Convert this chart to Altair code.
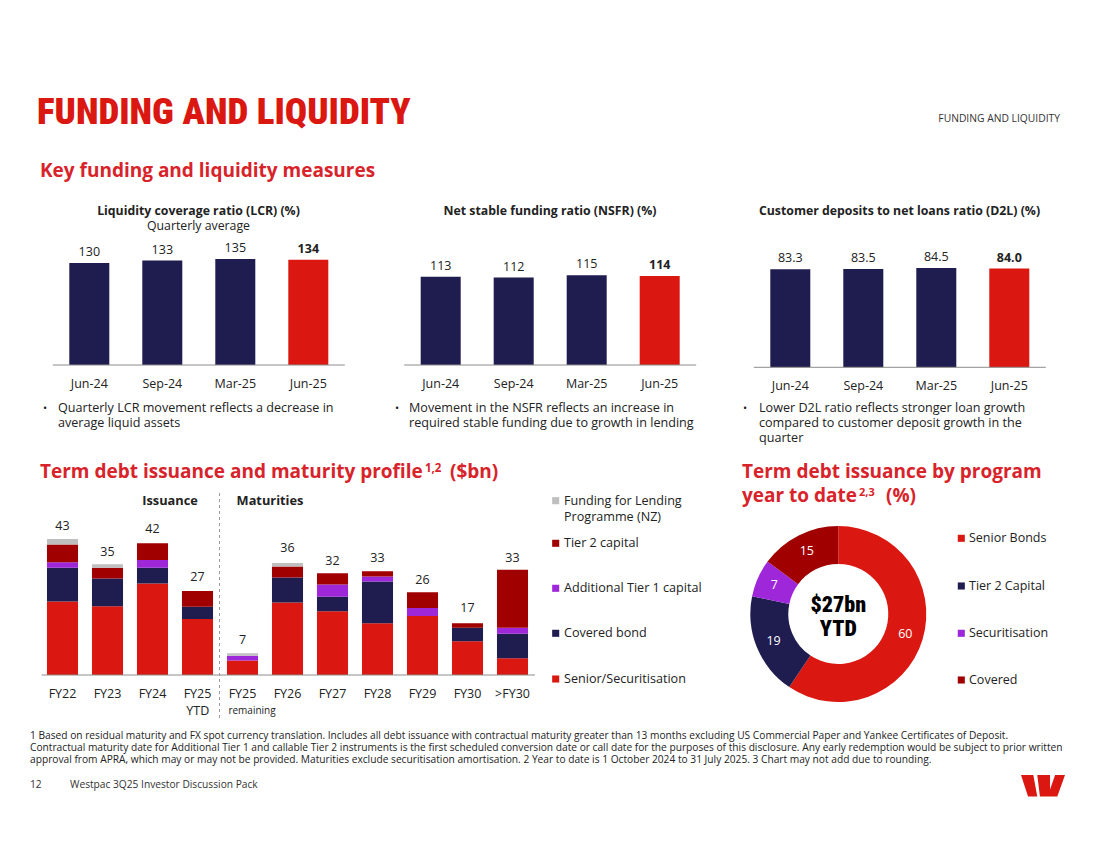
import altair as alt
import pandas as pd

# ---------------- data ----------------
quarters = ["Jun-24", "Sep-24", "Mar-25", "Jun-25"]
lcr = [130, 133, 135, 134]
nsfr = [113, 112, 115, 114]
d2l = [83.3, 83.5, 84.5, 84.0]

periods = ["FY22", "FY23", "FY24", "FY25 YTD", "FY25 remaining", "FY26",
           "FY27", "FY28", "FY29", "FY30", ">FY30"]
period_line1 = ["FY22", "FY23", "FY24", "FY25", "FY25", "FY26",
                "FY27", "FY28", "FY29", "FY30", ">FY30"]
totals = [43, 35, 42, 27, 7, 36, 32, 33, 26, 17, 33]

components = ["Senior/Securitisation", "Covered bond", "Additional Tier 1 capital",
              "Tier 2 capital", "Funding for Lending Programme (NZ)"]
senior_sec = [23.3, 21.8, 29.0, 17.7, 4.6, 23.0, 20.2, 16.4, 18.7, 10.7, 5.3]
covered_bond = [10.7, 8.8, 5.0, 3.9, 0.0, 7.9, 4.6, 13.2, 0.0, 4.3, 7.8]
add_tier1 = [1.7, 0.0, 2.4, 0.0, 1.5, 0.0, 3.9, 1.6, 2.5, 0.0, 1.9]
tier2 = [5.6, 3.4, 5.3, 5.0, 0.0, 3.5, 3.5, 1.7, 5.0, 1.4, 18.3]
flp_nz = [1.8, 1.1, 0.0, 0.0, 0.8, 1.1, 0.0, 0.0, 0.0, 0.0, 0.0]

programs = ["Senior Bonds", "Tier 2 Capital", "Securitisation", "Covered"]
program_pct = [60, 19, 7, 15]

# ---------------- style ----------------
RED = "#DA1710"
HEAD = "#D8232A"
NAVY = "#1F1C4F"
PURPLE = "#9D27D9"
DARKRED = "#A00000"
GREY = "#BFBFBF"
TXT = "#222222"
BODY = "Open Sans"
NUM = "Open Sans"
TITLE = "Roboto Condensed, Open Sans Condensed"


def P(v):
    return v - 8


def dummy():
    return pd.DataFrame({"a": [0]})


def txt(s, x, y, size=12, weight="normal", color=TXT, font=BODY, align="left",
        baseline="alphabetic"):
    return alt.Chart(pd.DataFrame({"t": [s]})).mark_text(
        align=align, baseline=baseline, fontSize=size, fontWeight=weight,
        color=color, font=font
    ).encode(x=alt.value(P(x)), y=alt.value(P(y)), text="t:N")


def hline(x1, x2, y, color="#8C8C8C", width=1):
    return alt.Chart(dummy()).mark_rule(color=color, strokeWidth=width).encode(
        x=alt.value(P(x1)), x2=alt.value(P(x2)), y=alt.value(P(y)))


def square(x, y, color, size=50):
    return alt.Chart(dummy()).mark_square(color=color, size=size, opacity=1).encode(
        x=alt.value(P(x)), y=alt.value(P(y)))


layers = []

# ---------------- headings ----------------
layers.append(txt("FUNDING AND LIQUIDITY", 37, 124, size=37, weight=900, color=RED, font=TITLE))
layers.append(txt("FUNDING AND LIQUIDITY", 1060, 122, size=10.3, color="#333333", align="right"))
layers.append(txt("Key funding and liquidity measures", 40, 177, size=19, weight="bold", color=HEAD))


# ---------------- small bar charts ----------------
def small_chart(vals, fmt, x0, x1, base, ppu, dmax, title_cx, titles, bullet_x, text_x,
                bullets, xlab_y):
    df = pd.DataFrame({"q": quarters, "v": vals})
    xs = alt.X("q:N", scale=alt.Scale(domain=quarters, range=[P(x0), P(x1)],
                                      paddingInner=0.452, paddingOuter=0.226), axis=None)
    ys = alt.Y("v:Q", scale=alt.Scale(domain=[0, dmax], range=[P(base), P(base - dmax * ppu)],
                                      nice=False, zero=True), axis=None)
    out = []
    out.append(alt.Chart(df).mark_bar().encode(
        x=xs, y=ys,
        color=alt.Color("q:N", scale=alt.Scale(domain=quarters, range=[NAVY, NAVY, NAVY, RED]),
                        legend=None)))
    out.append(alt.Chart(df).transform_filter(alt.datum.q != quarters[-1]).mark_text(
        baseline="alphabetic", dy=-7, fontSize=12.5, font=NUM, color=TXT).encode(
        x=xs, y=ys, text=alt.Text("v:Q", format=fmt)))
    out.append(alt.Chart(df).transform_filter(alt.datum.q == quarters[-1]).mark_text(
        baseline="alphabetic", dy=-7, fontSize=12.5, font=NUM, fontWeight="bold", color=TXT).encode(
        x=xs, y=ys, text=alt.Text("v:Q", format=fmt)))
    out.append(alt.Chart(df).mark_text(baseline="alphabetic", fontSize=12.5, font=NUM, color=TXT).encode(
        x=xs, y=alt.value(P(xlab_y)), text="q:N"))
    out.append(hline(x0, x1, base))
    for i, t in enumerate(titles):
        out.append(txt(t, title_cx, 215 + 15 * i, size=12.3, weight="bold" if i == 0 else "normal",
                       align="center"))
    for i, b in enumerate(bullets):
        if i == 0:
            out.append(txt("•", bullet_x, 412, size=11))
        out.append(txt(b, text_x, 412 + 15 * i, size=12.6))
    return out


layers += small_chart(lcr, ".0f", 52.8, 344.8, 365, 0.785, 140, 198.5,
                      ["Liquidity coverage ratio (LCR) (%)", "Quarterly average"], 43, 58,
                      ["Quarterly LCR movement reflects a decrease in", "average liquid assets"], 388)
layers += small_chart(nsfr, ".0f", 404.2, 696.2, 365, 0.781, 140, 550,
                      ["Net stable funding ratio (NSFR) (%)"], 395, 409,
                      ["Movement in the NSFR reflects an increase in",
                       "required stable funding due to growth in lending"], 388)
layers += small_chart(d2l, ".1f", 753.8, 1045.8, 367.3, 1.176, 90, 899.5,
                      ["Customer deposits to net loans ratio (D2L) (%)"], 743, 759,
                      ["Lower D2L ratio reflects stronger loan growth",
                       "compared to customer deposit growth in the", "quarter"], 390)

# ---------------- term debt profile ----------------
layers.append(txt("Term debt issuance and maturity profile", 40, 478, size=19, weight="bold", color=HEAD))
layers.append(txt("1,2", 425, 472, size=11.5, weight="bold", color=HEAD))
layers.append(txt("($bn)", 450, 478, size=19, weight="bold", color=HEAD))

rows = []
for ci, (comp, arr) in enumerate(zip(components, [senior_sec, covered_bond, add_tier1, tier2, flp_nz])):
    for p, v in zip(periods, arr):
        rows.append({"p": p, "comp": comp, "ci": ci, "v": v})
stack_df = pd.DataFrame(rows)

bx = alt.X("p:N", scale=alt.Scale(domain=periods, range=[P(40), P(535)],
                                  paddingInner=0.31, paddingOuter=0.155), axis=None)
by_max = 45


def by_scale():
    return alt.Scale(domain=[0, by_max], range=[P(675), P(675 - by_max * 3.157)],
                     nice=False, zero=True)


layers.append(alt.Chart(stack_df).mark_bar().encode(
    x=bx, y=alt.Y("v:Q", scale=by_scale(), axis=None, stack="zero"),
    color=alt.Color("comp:N", scale=alt.Scale(domain=components,
                                               range=[RED, NAVY, PURPLE, DARKRED, GREY]), legend=None),
    order=alt.Order("ci:Q", sort="ascending")))

tot_df = pd.DataFrame({"p": periods, "v": totals, "l1": period_line1})
layers.append(alt.Chart(tot_df).mark_text(baseline="alphabetic", dy=-9, fontSize=12.5, font=NUM,
                                          color=TXT).encode(
    x=bx, y=alt.Y("v:Q", scale=by_scale(), axis=None), text="v:Q"))
layers.append(alt.Chart(tot_df).mark_text(baseline="alphabetic", fontSize=12.5, font=NUM,
                                          color=TXT).encode(x=bx, y=alt.value(P(698)), text="l1:N"))
layers.append(txt("YTD", 197.8, 715, size=12.5, font=NUM, align="center"))
layers.append(txt("remaining", 252, 714, size=10, font=NUM, align="center"))
layers.append(hline(41.7, 535, 675))
layers.append(alt.Chart(dummy()).mark_rule(color="#9A9A9A", strokeWidth=1, strokeDash=[3, 3]).encode(
    x=alt.value(P(219.5)), y=alt.value(P(493)), y2=alt.value(P(719))))
layers.append(txt("Issuance", 170, 505, size=12.8, weight="bold", align="center"))
layers.append(txt("Maturities", 270, 505, size=12.8, weight="bold", align="center"))

# legend for stacked bars
leg_items = [("Funding for Lending", GREY, 500.7), ("Tier 2 capital", DARKRED, 543.3),
             ("Additional Tier 1 capital", PURPLE, 588.3), ("Covered bond", NAVY, 633.3),
             ("Senior/Securitisation", RED, 679)]
for lab, col, yy in leg_items:
    layers.append(square(555.7, yy, col))
    layers.append(txt(lab, 564, yy, size=12.6, baseline="middle"))
layers.append(txt("Programme (NZ)", 564, 516.7, size=12.6, baseline="middle"))

# ---------------- donut ----------------
layers.append(txt("Term debt issuance by program", 742, 478, size=19, weight="bold", color=HEAD))
layers.append(txt("year to date", 742, 502, size=19, weight="bold", color=HEAD))
layers.append(txt("2,3", 859, 496, size=11, weight="bold", color=HEAD))
layers.append(txt("(%)", 886, 502, size=19, weight="bold", color=HEAD))

don_df = pd.DataFrame({"prog": programs, "pct": program_pct, "i": list(range(len(programs)))})
CX, CY = 838.3, 614
layers.append(alt.Chart(don_df).mark_arc(innerRadius=50, outerRadius=88).encode(
    theta=alt.Theta("pct:Q", stack=True),
    color=alt.Color("prog:N", scale=alt.Scale(domain=programs, range=[RED, NAVY, PURPLE, DARKRED]),
                    legend=None),
    order=alt.Order("i:Q"),
    x=alt.value(P(CX)), y=alt.value(P(CY))))
layers.append(alt.Chart(don_df).mark_text(radius=70, fontSize=12.5, font=NUM, color="white").encode(
    theta=alt.Theta("pct:Q", stack=True), order=alt.Order("i:Q"), text="pct:Q",
    x=alt.value(P(CX)), y=alt.value(P(CY))))
layers.append(txt("$27bn", CX, 612, size=22, weight=900, color="#000000", font=TITLE, align="center"))
layers.append(txt("YTD", CX, 636, size=22, weight=900, color="#000000", font=TITLE, align="center"))

for lab, col, yy in zip(programs, [RED, NAVY, PURPLE, DARKRED], [538.3, 586, 633.3, 680]):
    layers.append(square(961.3, yy, col))
    layers.append(txt(lab, 969, yy, size=12.5, baseline="middle"))

# ---------------- footnotes ----------------
foot = [
    "1 Based on residual maturity and FX spot currency translation. Includes all debt issuance with contractual maturity greater than 13 months excluding US Commercial Paper and Yankee Certificates of Deposit.",
    "Contractual maturity date for Additional Tier 1 and callable Tier 2 instruments is the first scheduled conversion date or call date for the purposes of this disclosure. Any early redemption would be subject to prior written",
    "approval from APRA, which may or may not be provided.  Maturities exclude securitisation amortisation. 2 Year to date is 1 October 2024 to 31 July 2025. 3 Chart may not add due to rounding.",
]
for i, f in enumerate(foot):
    layers.append(txt(f, 30, 739 + 12 * i, size=10.2, color="#222222"))
layers.append(txt("12", 30, 788, size=10.2, color="#333333"))
layers.append(txt("Westpac 3Q25 Investor Discussion Pack", 70, 788, size=10.2, color="#333333"))

LOGO = ("M -1 -0.49 L -0.44 -0.49 L -0.26 0.49 L -0.68 0.49 Z "
        "M -0.26 -0.49 L 0.32 -0.49 L 0.32 0.49 L -0.14 0.49 Z "
        "M 0.55 -0.49 L 1 -0.49 L 0.65 0.49 L 0.21 0.49 Z")
layers.append(alt.Chart(dummy()).mark_point(shape=LOGO, filled=True, size=44 * 44, color=RED,
                                            opacity=1, strokeWidth=0).encode(
    x=alt.value(P(1043)), y=alt.value(P(785.8))))

chart = alt.layer(*layers).resolve_scale(
    x="independent", y="independent", color="independent", theta="independent"
).properties(
    width=1084, height=833, padding=0, autosize=alt.AutoSizeParams(type="none"),
    background="white"
).configure_view(strokeWidth=0)

chart.save("out.html", embed_options={"renderer": "svg", "actions": False})
